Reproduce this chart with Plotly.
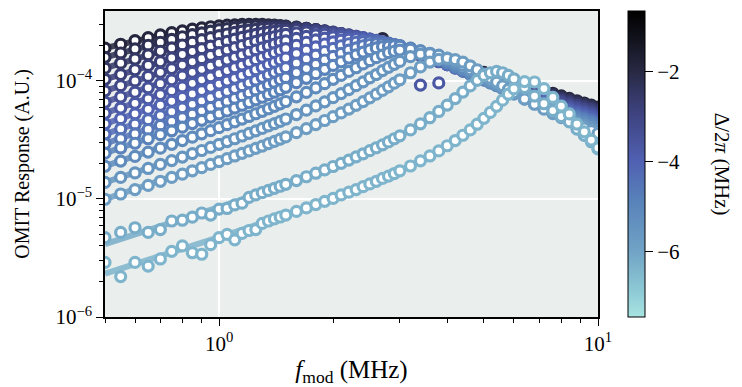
import math
import plotly.graph_objects as go
from plotly.colors import sample_colorscale

# Modulation frequency grid (MHz)
FREQ_MHZ = [0.5, 0.55, 0.6, 0.65, 0.7, 0.75, 0.8, 0.85, 0.9, 0.95, 1.0, 1.05, 1.1, 1.15, 1.2, 1.25, 1.3, 1.35, 1.4, 1.45, 1.5,
            1.6, 1.7, 1.8, 1.9, 2.0, 2.1, 2.2, 2.3, 2.4, 2.5, 2.6, 2.7, 2.8, 2.9, 3.0,
            3.2, 3.4, 3.6, 3.8, 4.0, 4.2, 4.4, 4.6, 4.8, 5.0, 5.2, 5.4, 5.6, 5.8, 6.0,
            6.4, 6.8, 7.2, 7.6, 8.0, 8.4, 8.8, 9.2, 9.6, 10.0]

# OMIT response, in units of 1e-6 A.U.
RESP_01 = [189, 204, 219, 232, 245, 256, 265, 274, 281, 287, 292, 296, 298, 300, 300, 300, 300, 298, 296, 294, 291,
           285, 278, 270, 262, 255, 247, 239, 232, 225, 218, 211, 228, 199, 193, 188,
           177, 168, 160, 152, 145, 139, 133, 127, 122, 118, 113, 109, 105, 102, 98.7,
           92.7, 87.4, 82.6, 78.4, 74.5, 71.0, 67.8, 64.9, 62.2, 59.8]
FIT_01 = [189, 204, 219, 232, 245, 256, 265, 274, 281, 287, 292, 296, 298, 300, 300, 300, 300, 298, 296, 294, 291,
          285, 278, 270, 262, 255, 247, 239, 232, 225, 218, 211, 205, 199, 193, 188,
          177, 168, 160, 152, 145, 139, 133, 127, 122, 118, 113, 109, 105, 102, 98.7,
          92.7, 87.4, 82.6, 78.4, 74.5, 71.0, 67.8, 64.9, 62.2, 59.8]
RESP_02 = [158, 172, 186, 200, 212, 224, 236, 246, 255, 263, 271, 277, 282, 286, 289, 291, 292, 292, 292, 291, 289,
           284, 278, 271, 264, 256, 248, 240, 233, 225, 218, 212, 205, 199, 193, 187,
           177, 167, 158, 151, 143, 137, 131, 125, 120, 116, 111, 107, 103, 100, 96.7,
           90.7, 85.5, 80.8, 76.6, 72.8, 69.3, 66.2, 63.3, 60.7, 58.3]
RESP_03 = [128, 141, 153, 166, 178, 190, 201, 212, 223, 232, 241, 249, 257, 263, 269, 273, 277, 279, 281, 282, 282,
           280, 277, 271, 265, 257, 250, 242, 234, 227, 219, 212, 205, 199, 193, 187,
           176, 166, 157, 149, 142, 135, 129, 123, 118, 113, 109, 105, 101, 97.6, 94.4,
           88.5, 83.2, 78.6, 74.4, 70.7, 67.3, 64.2, 61.4, 58.9, 56.5]
RESP_04 = [103, 113, 124, 135, 145, 156, 167, 177, 187, 197, 207, 216, 225, 233, 240, 247, 253, 258, 262, 266, 268,
           271, 271, 268, 263, 258, 251, 244, 236, 228, 221, 213, 206, 199, 193, 187,
           175, 165, 156, 147, 140, 133, 127, 121, 116, 111, 106, 102, 98.6, 95.1, 91.8,
           86.0, 80.8, 76.2, 72.1, 68.4, 65.1, 62.1, 59.4, 56.9, 54.6]
RESP_05 = [82.2, 90.9, 99.7, 109, 118, 127, 136, 145, 154, 164, 173, 182, 191, 199, 208, 216, 223, 230, 236, 242, 247,
           254, 259, 260, 259, 256, 251, 245, 238, 230, 223, 216, 208, 201, 194, 188,
           176, 165, 155, 146, 138, 131, 125, 119, 114, 109, 104, 100, 96.2, 92.7, 89.4,
           83.6, 78.4, 73.9, 69.8, 66.2, 63.0, 60.0, 57.3, 54.9, 52.6]
RESP_06 = [65.8, 72.9, 80.0, 87.2, 94.6, 102, 110, 118, 125, 133, 141, 150, 158, 166, 174, 182, 190, 197, 205, 212, 218,
           229, 238, 245, 248, 248, 247, 243, 238, 232, 225, 218, 210, 203, 196, 189,
           176, 165, 155, 145, 137, 130, 123, 117, 111, 106, 102, 97.7, 93.8, 90.3, 87.0,
           81.1, 76.0, 71.5, 67.5, 63.9, 60.7, 57.8, 55.2, 52.8, 50.6]
RESP_07 = [53.1, 58.8, 64.5, 70.4, 76.4, 82.5, 88.8, 95.2, 102, 108, 115, 122, 129, 136, 143, 151, 158, 165, 173, 180, 187,
           200, 212, 222, 230, 235, 237, 237, 235, 231, 226, 219, 213, 206, 199, 192,
           178, 92, 155, 96, 137, 129, 122, 115, 110, 105, 99.9, 95.6, 91.7, 88.1, 84.8,
           78.9, 73.8, 69.3, 65.3, 61.8, 58.6, 55.8, 53.2, 50.9, 48.7]
FIT_07 = [53.1, 58.8, 64.5, 70.4, 76.4, 82.5, 88.8, 95.2, 102, 108, 115, 122, 129, 136, 143, 151, 158, 165, 173, 180, 187,
          200, 212, 222, 230, 235, 237, 237, 235, 231, 226, 219, 213, 206, 199, 192,
          178, 166, 155, 145, 137, 129, 122, 115, 110, 105, 99.9, 95.6, 91.7, 88.1, 84.8,
          78.9, 73.8, 69.3, 65.3, 61.8, 58.6, 55.8, 53.2, 50.9, 48.7]
RESP_08 = [43.2, 47.8, 52.5, 57.3, 62.1, 67.1, 72.2, 77.4, 82.7, 88.2, 93.8, 99.5, 105, 111, 117, 124, 130, 137, 143, 150, 156,
           170, 182, 194, 205, 214, 221, 225, 227, 226, 224, 220, 214, 208, 202, 195,
           181, 168, 157, 146, 137, 128, 121, 115, 109, 103, 98.4, 94.0, 90.0, 86.3, 82.9,
           76.9, 71.7, 67.2, 63.3, 59.8, 56.7, 53.9, 51.3, 49.0, 47.0]
RESP_09 = [35.4, 39.1, 42.9, 46.8, 50.8, 54.8, 59.0, 63.2, 67.6, 72.0, 76.6, 81.2, 86.0, 91.0, 96.0, 101, 107, 112, 118, 123, 129,
           141, 153, 165, 177, 188, 198, 206, 212, 215, 217, 216, 213, 209, 203, 197,
           184, 171, 159, 148, 138, 129, 121, 114, 108, 102, 97.0, 92.4, 88.3, 84.5, 81.1,
           75.0, 69.8, 65.3, 61.3, 57.8, 54.8, 52.0, 49.5, 47.2, 45.2]
RESP_10 = [29.3, 32.4, 35.5, 38.7, 42.0, 45.3, 48.7, 52.2, 55.7, 59.4, 63.1, 66.9, 70.8, 74.9, 79.0, 83.3, 87.7, 92.2, 96.8, 102, 106,
           117, 127, 138, 150, 161, 171, 182, 190, 198, 203, 206, 207, 206, 203, 199,
           188, 175, 162, 150, 140, 130, 122, 114, 108, 102, 96.3, 91.5, 87.2, 83.3, 79.7,
           73.5, 68.2, 63.6, 59.7, 56.2, 53.1, 50.3, 47.9, 45.7, 43.6]
RESP_11 = [24.4, 27.0, 29.6, 32.3, 35.0, 37.7, 40.5, 43.4, 46.3, 49.3, 52.4, 55.5, 58.8, 62.1, 65.5, 69.0, 72.6, 76.3, 80.1, 84.0, 88.1,
           96.5, 105, 115, 125, 135, 145, 156, 166, 175, 183, 190, 195, 197, 198, 197,
           189, 178, 166, 154, 143, 132, 123, 115, 108, 102, 96.0, 91.0, 86.5, 82.4, 78.7,
           72.2, 66.8, 62.2, 58.2, 54.7, 51.6, 48.8, 46.4, 44.2, 42.2]
RESP_12 = [18.9, 20.9, 22.9, 24.9, 26.9, 29.0, 31.2, 33.3, 35.6, 37.8, 40.1, 42.5, 44.9, 47.4, 49.9, 52.6, 55.2, 58.0, 60.8, 63.8, 66.8,
           73.1, 79.8, 87.0, 94.6, 103, 111, 120, 129, 139, 148, 157, 165, 173, 178, 182,
           185, 180, 171, 160, 148, 137, 127, 118, 110, 103, 96.3, 90.9, 85.9, 81.5, 77.5,
           70.7, 65.0, 60.2, 56.1, 52.6, 49.5, 46.7, 44.3, 42.1, 40.1]
RESP_13 = [13.8, 15.2, 16.6, 18.1, 19.6, 21.1, 22.6, 24.2, 25.7, 27.3, 29.0, 30.6, 32.3, 34.1, 35.9, 37.7, 39.5, 41.5, 43.4, 45.4, 47.5,
           51.8, 56.4, 61.3, 66.4, 72.0, 77.9, 84.2, 90.9, 98.0, 106, 113, 122, 130, 138, 146,
           160, 168, 170, 165, 156, 145, 135, 124, 115, 107, 99.2, 92.7, 87.0, 82.0, 77.5,
           69.9, 63.7, 58.5, 54.2, 50.5, 47.3, 44.5, 42.1, 39.9, 37.9]
RESP_14 = [9.93, 11.0, 12.0, 13.0, 14.1, 15.2, 16.2, 17.3, 18.4, 19.6, 20.7, 21.9, 23.1, 24.3, 25.5, 26.8, 28.0, 29.4, 30.7, 32.1, 33.5,
           36.4, 39.4, 42.6, 46.1, 49.7, 53.5, 57.6, 62.0, 66.7, 71.8, 77.1, 82.9, 89.0, 95.5, 102,
           117, 131, 144, 152, 155, 151, 144, 134, 124, 114, 105, 97.6, 90.6, 84.6, 79.2,
           70.3, 63.3, 57.5, 52.8, 48.8, 45.5, 42.6, 40.0, 37.8, 35.8]
MEAS_15 = [4.7, 5.2, 5.7, 5.2, 5.5, 6.5, 6.6, 7.0, 7.6, 7.3, 8.2, 8.3, 8.9, 9.2, 10.3, 10.8, 11.3, 11.8, 12.3, 12.8, 13.3,
           14.3, 15.4, 16.5, 17.6, 18.8, 20.0, 21.3, 22.7, 24.1, 25.6, 27.1, 28.7, 30.4, 32.3, 34.2,
           38.4, 43.2, 48.7, 55.0, 62.3, 70.7, 80.2, 90.5, 101, 111, 117, 120, 117, 111, 104,
           87.6, 74.2, 63.9, 56.0, 49.8, 44.9, 39.0, 34.5, 30.5, 26.5]
FIT_15 = [4.14, 4.56, 4.99, 5.41, 5.84, 6.27, 6.71, 7.15, 7.59, 8.04, 8.49, 8.94, 9.40, 9.87, 10.3, 10.8, 11.3, 11.8, 12.3, 12.8, 13.3,
          14.3, 15.4, 16.5, 17.6, 18.8, 20.0, 21.3, 22.7, 24.1, 25.6, 27.1, 28.7, 30.4, 32.3, 34.2,
          38.4, 43.2, 48.7, 55.0, 62.3, 70.7, 80.2, 90.5, 101, 111, 117, 120, 117, 111, 104,
          87.6, 74.2, 63.9, 56.0, 49.8, 44.9, 39.0, 34.5, 30.5, 26.5]
MEAS_16 = [2.9, 2.2, 2.9, 2.7, 3.1, 3.6, 4.0, 3.5, 3.4, 4.1, 4.7, 5.0, 4.5, 5.1, 5.4, 5.5, 6.2, 6.50, 6.77, 7.03, 7.30,
           7.84, 8.39, 8.96, 9.54, 10.1, 10.8, 11.4, 12.0, 12.7, 13.4, 14.1, 14.9, 15.6, 16.4, 17.3,
           19.0, 21.0, 23.1, 25.5, 28.2, 31.2, 34.6, 38.4, 42.9, 48.1, 54.0, 60.8, 68.6, 77.0, 85.6,
           98.5, 97.7, 85.9, 72.3, 61.1, 52.4, 43.0, 37.0, 31.5, 27.0]
FIT_16 = [2.33, 2.56, 2.80, 3.03, 3.27, 3.51, 3.75, 3.99, 4.24, 4.48, 4.73, 4.98, 5.23, 5.48, 5.73, 5.99, 6.24, 6.50, 6.77, 7.03, 7.30,
          7.84, 8.39, 8.96, 9.54, 10.1, 10.8, 11.4, 12.0, 12.7, 13.4, 14.1, 14.9, 15.6, 16.4, 17.3,
          19.0, 21.0, 23.1, 25.5, 28.2, 31.2, 34.6, 38.4, 42.9, 48.1, 54.0, 60.8, 68.6, 77.0, 85.6,
          98.5, 97.7, 85.9, 72.3, 61.1, 52.4, 43.0, 37.0, 31.5, 27.0]

# Detuning Delta/2pi (MHz) of each series (sets its colour)
DETUNING_MHZ = [-1.9, -2.2, -2.5, -2.8, -3.1, -3.4, -3.7, -4.0, -4.3, -4.6, -4.9, -5.2, -5.5, -5.8, -6.2, -6.4]

MEASURED = [RESP_01, RESP_02, RESP_03, RESP_04, RESP_05, RESP_06, RESP_07, RESP_08, RESP_09, RESP_10,
            RESP_11, RESP_12, RESP_13, RESP_14, MEAS_15, MEAS_16]
FITTED = [FIT_01, RESP_02, RESP_03, RESP_04, RESP_05, RESP_06, FIT_07, RESP_08, RESP_09, RESP_10,
          RESP_11, RESP_12, RESP_13, RESP_14, FIT_15, FIT_16]

CB_TICKS = [-2, -4, -6]
CB_TICKTEXT = ["\u22122", "\u22124", "\u22126"]
CB_TITLE = "\u0394/2<i>\u03c0</i> (MHz)"
CMIN, CMAX = -7.45, -0.65
UNIT = 1e-6
FONT = "Liberation Serif"
FS = 21

COLORSCALE = [
    [0.00, "rgb(168,228,225)"],
    [0.09, "rgb(140,200,212)"],
    [0.22, "rgb(112,162,197)"],
    [0.38, "rgb(88,130,186)"],
    [0.51, "rgb(80,96,178)"],
    [0.68, "rgb(60,64,122)"],
    [0.80, "rgb(40,42,68)"],
    [0.90, "rgb(20,20,32)"],
    [1.00, "rgb(0,0,0)"],
]

fig = go.Figure()
for meas, fit, dlt in zip(MEASURED, FITTED, DETUNING_MHZ):
    pos = (dlt - CMIN) / (CMAX - CMIN)
    col = sample_colorscale(COLORSCALE, [pos])[0]
    fig.add_trace(go.Scatter(
        x=FREQ_MHZ, y=[v * UNIT for v in fit], mode="lines",
        line=dict(color=col, width=6), opacity=0.85,
        hoverinfo="skip", showlegend=False))
    fig.add_trace(go.Scatter(
        x=FREQ_MHZ, y=[v * UNIT for v in meas], mode="markers",
        marker=dict(symbol="circle", size=10, color="white",
                    line=dict(color=col, width=3.2)),
        showlegend=False))

# colourbar
fig.add_trace(go.Scatter(
    x=[None], y=[None], mode="markers", showlegend=False, hoverinfo="skip",
    marker=dict(color=[CMIN], cmin=CMIN, cmax=CMAX, colorscale=COLORSCALE, showscale=True,
                colorbar=dict(
                    x=1.061, xanchor="left", xpad=0, ypad=0,
                    y=0.5, yanchor="middle", len=1, lenmode="fraction",
                    thickness=17, outlinewidth=1, outlinecolor="black",
                    tickvals=CB_TICKS, ticktext=CB_TICKTEXT, ticks="outside", ticklen=8,
                    tickwidth=1.2, tickcolor="black",
                    tickfont=dict(size=FS, family=FONT, color="black"),
                ))))

# colourbar label (reads top to bottom, as in the reference)
fig.add_annotation(text=CB_TITLE, xref="paper", yref="paper", x=1.252, y=0.5,
                   xanchor="center", yanchor="middle", textangle=90, showarrow=False,
                   font=dict(size=FS, family=FONT, color="black"))

x_minor = [0.5, 0.6, 0.7, 0.8, 0.9, 2, 3, 4, 5, 6, 7, 8, 9]
y_minor = [m * 10 ** e for e in (-6, -5, -4) for m in range(2, 10) if m * 10 ** e < 4e-4]

fig.update_layout(
    width=742, height=387,
    margin=dict(l=105, r=144, t=11, b=70, autoexpand=False),
    paper_bgcolor="white", plot_bgcolor="#eaeeec",
    font=dict(family=FONT, size=FS, color="black"),
    showlegend=False,
    xaxis=dict(
        type="log", range=[math.log10(0.5), 1.0], automargin=False,
        tickvals=[1, 10], ticktext=["10<sup>0</sup>", "10<sup>1</sup>"],
        ticks="outside", ticklen=7, tickwidth=1.2, tickcolor="black",
        showgrid=True, gridcolor="white", gridwidth=2,
        minor=dict(tickvals=x_minor, ticks="outside", ticklen=4, tickwidth=1, tickcolor="black", showgrid=False),
        showline=True, linecolor="black", linewidth=1.5, mirror=True, zeroline=False,
        title=dict(text="<i>f</i><sub>mod</sub> (MHz)", standoff=6),
    ),
    yaxis=dict(
        type="log", range=[-6, math.log10(3.9e-4)], automargin=False,
        tickvals=[1e-6, 1e-5, 1e-4],
        ticktext=["10<sup>\u22126</sup>", "10<sup>\u22125</sup>", "10<sup>\u22124</sup>"],
        ticks="outside", ticklen=7, tickwidth=1.2, tickcolor="black",
        showgrid=True, gridcolor="white", gridwidth=2,
        minor=dict(tickvals=y_minor, ticks="outside", ticklen=4, tickwidth=1, tickcolor="black", showgrid=False),
        showline=True, linecolor="black", linewidth=1.5, mirror=True, zeroline=False,
        title=dict(text="OMIT Response (A.U.)", standoff=20, font=dict(size=20)),
    ),
)

fig.write_html("out.html", config={"displayModeBar": False},
               post_script="document.body.style.margin='0px';document.body.style.padding='0px';")
